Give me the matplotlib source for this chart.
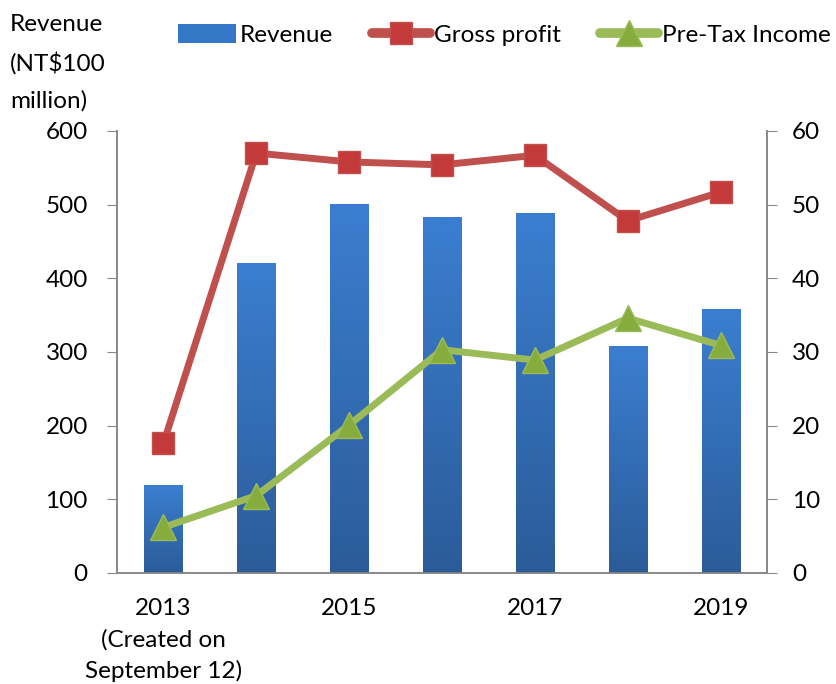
import numpy as np
import matplotlib.pyplot as plt
from matplotlib.colors import LinearSegmentedColormap
from matplotlib.lines import Line2D
from matplotlib.patches import Patch

plt.rcParams['font.family'] = ['Lato', 'DejaVu Sans']

years = ['2013', '2014', '2015', '2016', '2017', '2018', '2019']
tick_labels = ['2013\n(Created on\nSeptember 12)', '', '2015', '', '2017', '', '2019']
revenue = [119, 421, 501, 483, 489, 308, 358]
gross_profit = [17.6, 57.0, 55.8, 55.4, 56.7, 47.8, 51.7]
pretax_income = [6.2, 10.5, 20.1, 30.3, 28.9, 34.6, 30.9]

FS = 17.5

fig = plt.figure(figsize=(8.37, 6.84), dpi=100)
ax = fig.add_axes([0.1398, 0.1623, 0.7766, 0.6462])
ax2 = ax.twinx()

x = np.arange(len(years))
bar_w = 0.41
bars = ax.bar(x, revenue, width=bar_w, color='#3377C6', zorder=2)

# vertical gradient on each bar
grad = LinearSegmentedColormap.from_list('blu', ['#2B5C99', '#3B7ED0'])
for b in bars:
    bx, by = b.get_x(), b.get_y()
    bw, bh = b.get_width(), b.get_height()
    im = ax.imshow(np.linspace(0, 1, 256).reshape(-1, 1), cmap=grad, origin='lower',
                   extent=[bx, bx + bw, by, by + bh], aspect='auto', zorder=3)
    im.set_clip_path(b)

ax.set_xlim(-0.5, 6.5)
ax.set_ylim(0, 600)
ax2.set_ylim(0, 60)
ax.set_yticks(range(0, 601, 100))
ax2.set_yticks(range(0, 61, 10))

ax2.plot(x, gross_profit, color='#C0504D', lw=5, marker='s', ms=16,
         mfc='#C43A3A', mec='#C0504D', mew=1, solid_capstyle='round', zorder=4)
ax2.plot(x, pretax_income, color='#9BBB59', lw=5, marker='^', ms=19,
         mfc='#86AC3E', mec='#9BBB59', mew=1, solid_capstyle='round', zorder=4)

ax.set_xticks(x)
ax.set_xticklabels(tick_labels, fontsize=FS, linespacing=1.55)
ax.tick_params(axis='x', length=0, pad=18)
ax.tick_params(axis='y', labelsize=FS, length=7, color='#888888', pad=14)
ax2.tick_params(axis='y', labelsize=FS, length=7, color='#888888', pad=11)

for a in (ax, ax2):
    a.spines['top'].set_visible(False)
    for s in ('left', 'right', 'bottom'):
        a.spines[s].set_color('#888888')
        a.spines[s].set_linewidth(1.2)
ax.set_facecolor('none')

fig.text(0.012, 0.98, 'Revenue\n(NT$100\nmillion)', fontsize=FS, ha='left', va='top',
         linespacing=1.9)

handles = [Patch(facecolor='#3377C6'),
           Line2D([], [], color='#C0504D', lw=7, marker='s', ms=16, mfc='#C43A3A',
                  mec='#C0504D', solid_capstyle='round'),
           Line2D([], [], color='#9BBB59', lw=7, marker='^', ms=19, mfc='#86AC3E',
                  mec='#9BBB59', solid_capstyle='round')]
fig.legend(handles, ['Revenue', 'Gross profit', 'Pre-Tax Income'], loc='center left',
           bbox_to_anchor=(178 / 837, 0.949), ncol=3, frameon=False, fontsize=FS,
           handlelength=2.4, handletextpad=0.15, columnspacing=1.6, handleheight=0.8,
           borderpad=0, borderaxespad=0)

fig.savefig('out.png', dpi=100)
